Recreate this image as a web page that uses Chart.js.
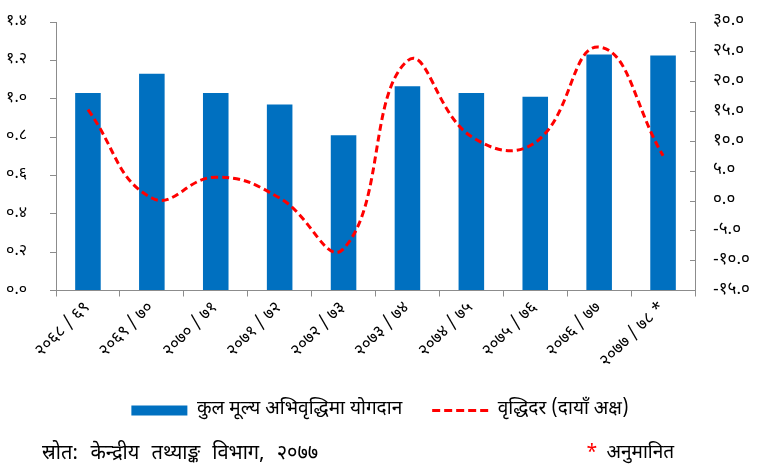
<!DOCTYPE html>
<html>
<head>
<meta charset="utf-8">
<script src="https://cdn.jsdelivr.net/npm/chart.js@4.4.1/dist/chart.umd.min.js"></script>
<style>
  body { margin: 0; background: #fff; }
  #wrap { position: relative; width: 760px; height: 464px; }
  .note { position: absolute; font-family: "Noto Sans Devanagari", "Noto Sans", sans-serif; font-size: 20px; line-height: 24px; color: #000; white-space: nowrap; word-spacing: 7px; }
</style>
</head>
<body>
<div id="wrap">
  <canvas id="canvas" width="760" height="464"></canvas>
  <div class="note" style="left:42px; top:442px;">स्रोत: केन्द्रीय तथ्याङ्क विभाग, २०७७</div>
  <div class="note" style="left:586px; top:442px; font-size:19px; word-spacing:4px;"><span style="color:#ff0000">*</span> अनुमानित</div>
</div>
<script>
const labels = ["२०६८ / ६९", "२०६९ / ७०", "२०७० / ७१", "२०७१ / ७२", "२०७२ / ७३",
                "२०७३ / ७४", "२०७४ / ७५", "२०७५ / ७६", "२०७६ / ७७", "२०७७ / ७८ *"];
const contribution = [1.03, 1.13, 1.03, 0.97, 0.81, 1.065, 1.03, 1.01, 1.23, 1.225];
const growth = [15.3, 0.5, 4.0, 0.5, -8.0, 23.5, 10.8, 9.8, 25.8, 7.6];
const leftTicks = ["०.०", "०.२", "०.४", "०.६", "०.८", "१.०", "१.२", "१.४"];
const rightTicks = ["-१५.०", "-१०.०", "-५.०", "०.०", "५.०", "१०.०", "१५.०", "२०.०", "२५.०", "३०.०"];

const font = "'Noto Sans Devanagari', 'Noto Sans', sans-serif";
const axisGray = "#8c8c8c";

// legend: keep dataset order, give the growth line its dash
function legendLabels(chart) {
  const items = Chart.defaults.plugins.legend.labels.generateLabels(chart);
  items.forEach((it) => {
    if (it.datasetIndex === 1) {
      it.lineDash = [8, 4];
      it.lineWidth = 3;
      it.strokeStyle = "#ff0000";
    }
  });
  return items.sort((a, b) => a.datasetIndex - b.datasetIndex);
}

// y axes: tick padding should not push the plot area down
function fitY(width) {
  return (s) => {
    s.width = width;
    s.paddingTop = 0;
    s.paddingBottom = 0;
  };
}

const ctx = document.getElementById("canvas").getContext("2d");
const myChart = new Chart(ctx, {
  type: "bar",
  data: {
    labels: labels,
    datasets: [
      {
        label: "कुल मूल्य अभिवृद्धिमा योगदान",
        data: contribution,
        backgroundColor: "#0070c0",
        borderWidth: 0,
        barPercentage: 0.4,
        categoryPercentage: 1.0,
        pointStyle: "rect",
        yAxisID: "y",
        order: 1,
      },
      {
        type: "line",
        label: "वृद्धिदर (दायाँ अक्ष)",
        data: growth,
        borderColor: "#ff0000",
        backgroundColor: "#ff0000",
        borderWidth: 3,
        borderDash: [7, 4],
        tension: 0.45,
        pointRadius: 0,
        pointStyle: "line",
        yAxisID: "y1",
        order: 0,
      },
    ],
  },
  options: {
    responsive: false,
    animation: false,
    layout: { padding: { top: 22, bottom: 34, left: 0, right: 0 } },
    plugins: {
      tooltip: { enabled: false },
      legend: {
        position: "bottom",
        labels: {
          generateLabels: legendLabels,
          usePointStyle: true,
          pointStyleWidth: 56,
          boxWidth: 56,
          boxHeight: 10,
          padding: 30,
          color: "#000",
          font: { family: font, size: 19 },
        },
      },
    },
    scales: {
      x: {
        grid: { drawOnChartArea: false, color: axisGray, tickLength: 6, offset: true },
        border: { color: axisGray, width: 1 },
        ticks: { maxRotation: 45, minRotation: 45, color: "#000", font: { family: font, size: 17 }, padding: 2 },
        afterFit: (s) => { s.height = 80.5; },
      },
      y: {
        position: "left",
        min: 0,
        max: 1.4,
        grid: { drawOnChartArea: false, color: axisGray, tickLength: 6 },
        border: { color: axisGray, width: 1 },
        ticks: {
          stepSize: 0.2,
          color: "#000",
          padding: 23,
          font: { family: font, size: 16 },
          callback: (v, i) => leftTicks[i],
        },
        afterFit: fitY(56),
      },
      y1: {
        position: "right",
        min: -15,
        max: 30,
        grid: { drawOnChartArea: false, color: axisGray, tickLength: -5 },
        border: { color: axisGray, width: 1 },
        ticks: {
          stepSize: 5,
          color: "#000",
          padding: 23,
          font: { family: font, size: 17 },
          callback: (v, i) => rightTicks[i],
        },
        afterFit: fitY(65),
      },
    },
  },
});
</script>
</body>
</html>
